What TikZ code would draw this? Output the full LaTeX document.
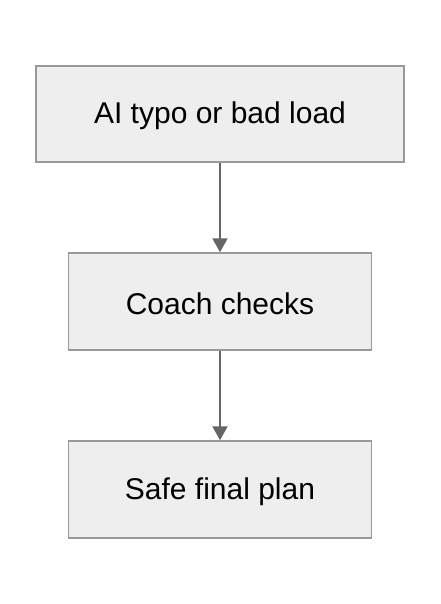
\documentclass[tikz,border=0pt]{standalone}
\usepackage{fontspec}
\setmainfont{Liberation Sans}
\usetikzlibrary{arrows.meta}
\definecolor{boxfill}{HTML}{EEEEEE}
\definecolor{boxline}{HTML}{999999}
\definecolor{arrowc}{HTML}{666666}
\tikzset{
  stepbox/.style={draw=boxline, fill=boxfill, line width=1.5pt, inner sep=0pt,
    font=\fontsize{30}{36}\selectfont, text=black},
  steptext/.style={inner sep=0pt, font=\fontsize{30}{36}\selectfont, text=black},
  link/.style={draw=arrowc, line width=2pt, -{Triangle[length=14pt,width=15pt]}}
}
\begin{document}
\begin{tikzpicture}[x=1pt,y=-1pt]
\useasboundingbox (0,0) rectangle (440,604);
\node[stepbox, minimum width=368pt, minimum height=96pt] (a) at (220,114) {};
\node[stepbox, minimum width=303pt, minimum height=97pt] (b) at (220,301.5) {};
\node[stepbox, minimum width=303pt, minimum height=97pt] (c) at (220,489.5) {};
\node[steptext] (ta) at ([yshift=-2pt]a.center) {AI typo or bad load};
\node[steptext] (tb) at ([yshift=-2pt]b.center) {Coach checks};
\node[steptext] (tc) at ([yshift=-2pt]c.center) {Safe final plan};
\draw[link] (a) -- (b);
\draw[link] (b) -- (c);
\end{tikzpicture}
\end{document}
